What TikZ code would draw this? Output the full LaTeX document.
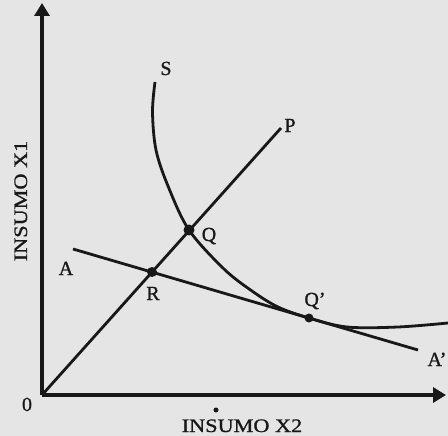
\documentclass[tikz,border=0pt]{standalone}
\usepackage{fontspec}
\setmainfont{Liberation Serif}[FakeBold=1]
\usetikzlibrary{arrows.meta}
\definecolor{paper}{RGB}{229,229,229}
\definecolor{ink}{RGB}{24,24,24}
\begin{document}
\begin{tikzpicture}[x=1pt,y=-1pt,
  axis/.style={draw=ink,line width=3.2pt,-{Triangle[length=13pt,width=15pt]}},
  curveline/.style={draw=ink,line width=2.8pt},
  dot/.style={circle,fill=ink,inner sep=0pt,minimum size=#1},
  lab/.style={text=ink,font=\fontsize{20}{22}\selectfont,inner sep=0pt,anchor=base},
  axlab/.style={text=ink,font=\fontsize{19}{20}\selectfont,inner sep=0pt,anchor=base}]
\fill[paper] (0,0) rectangle (448,436);
\useasboundingbox (0,0) rectangle (448,436);
% key points
\coordinate (O) at (42,395);
\coordinate (Ytop) at (42,3);
\coordinate (Xend) at (446,395);
\coordinate (Pend) at (281,128);
\coordinate (Aend) at (73,249);
\coordinate (Apend) at (418,350);
% axes
\draw[axis] (O) -- (Ytop);
\draw[axis] (O) -- (Xend);
% ray and price line
\draw[curveline] (O) -- (Pend);
\draw[curveline] (Aend) -- (Apend);
% isoquant
\draw[curveline] plot[smooth,tension=0.55] coordinates
  {(155,82) (152.5,112) (156,150) (168,186) (189,230) (224,269) (252,291) (278,307) (309,318) (347,327) (398,327) (448,323)};
% points
\node[dot=11pt] (Q) at (189,230) {};
\node[dot=10pt] (R) at (152,272) {};
\node[dot=9pt] (Qp) at (309,318) {};
\node[dot=5pt] (mark) at (216,410) {};
% labels
\node[lab] (lS) at (166,75) {S};
\node[lab] (lP) at (290,132) {P};
\node[lab] (lQ) at (209,241) {Q};
\node[lab] (lA) at (66,275) {A};
\node[lab] (lR) at (153,300) {R};
\node[lab] (lQp) at (315,306) {Q’};
\node[lab] (lAp) at (437,366) {A’};
\node[lab] (l0) at (27,411) {0};
\node[axlab] (lx2) at (242,432) {\scalebox{1.17}[1]{INSUMO X2}};
\node[axlab,rotate=90] (lx1) at (27,201) {\scalebox{1.17}[1]{INSUMO X1}};
\end{tikzpicture}
\end{document}
